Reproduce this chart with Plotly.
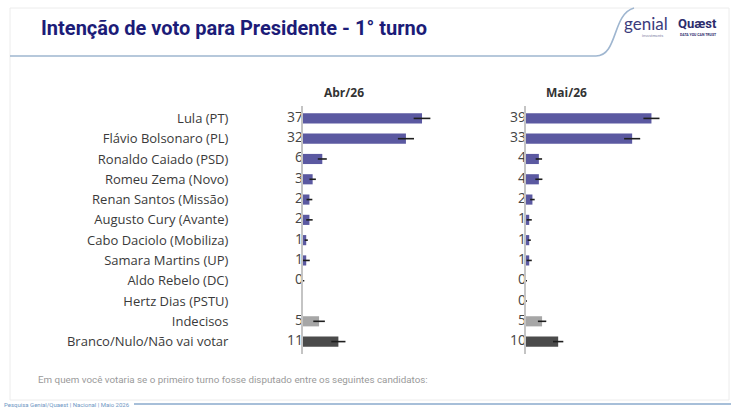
import plotly.graph_objects as go

W, H = 741, 412

candidatos = [
    "Lula (PT)", "Flávio Bolsonaro (PL)", "Ronaldo Caiado (PSD)", "Romeu Zema (Novo)",
    "Renan Santos (Missão)", "Augusto Cury (Avante)", "Cabo Daciolo (Mobiliza)",
    "Samara Martins (UP)", "Aldo Rebelo (DC)", "Hertz Dias (PSTU)", "Indecisos",
    "Branco/Nulo/Não vai votar",
]
abr_26 = [37, 32, 6, 3, 2, 2, 1, 1, 0, None, 5, 11]
abr_err = [2.6, 2.5, 1.4, 1.0, 0.9, 1.0, 0.5, 1.1, 0.4, None, 1.8, 2.2]
mai_26 = [39, 33, 4, 4, 2, 1, 1, 1, 0, 0, 5, 10]
mai_err = [2.5, 2.5, 1.0, 1.1, 0.7, 0.8, 0.5, 0.8, 0.3, 0.3, 1.3, 1.6]
meses = ["Abr/26", "Mai/26"]

roxo, cinza_claro, cinza_escuro = "#5b59a1", "#a6a6a6", "#4b4b4b"
cores = [roxo] * 10 + [cinza_claro, cinza_escuro]


def px(x, y):
    return x / W, 1 - y / H


fig = go.Figure()

for i, (vals, errs) in enumerate([(abr_26, abr_err), (mai_26, mai_err)]):
    xa = "x" if i == 0 else "x2"
    fig.add_trace(go.Bar(
        x=vals, y=candidatos, orientation="h", xaxis=xa, yaxis="y" if i == 0 else "y2",
        marker=dict(color=cores, line=dict(width=0)), width=0.5,
        error_x=dict(type="data", array=errs, color="#1e1e1e", thickness=1.6, width=0),
        showlegend=False, hoverinfo="x+y",
    ))
    fig.add_trace(go.Scatter(
        x=[0] * len(vals), y=candidatos, xaxis=xa, yaxis="y" if i == 0 else "y2",
        mode="text", text=["" if v is None else str(v) for v in vals],
        textposition="middle left", cliponaxis=False,
        textfont=dict(family="Open Sans", size=14, color="#444444"),
        showlegend=False, hoverinfo="skip",
    ))

y0, y1 = 1 - 354 / H, 1 - 106 / H
fig.update_layout(
    width=W, height=H, margin=dict(l=0, r=0, t=0, b=0),
    paper_bgcolor="white", plot_bgcolor="rgba(0,0,0,0)",
    xaxis=dict(domain=[303 / W, 496 / W], range=[0, 60], visible=False),
    xaxis2=dict(domain=[526 / W, 719 / W], range=[0, 60], visible=False),
    yaxis=dict(domain=[y0, y1], autorange="reversed", showline=True, linecolor="#c4c4c4",
               linewidth=2, showgrid=False, zeroline=False, ticks="",
               ticklabelstandoff=70,
               tickfont=dict(family="Open Sans", size=13, color="#3a3a3a")),
    yaxis2=dict(domain=[y0, y1], autorange="reversed", anchor="x2", showline=True,
                linecolor="#c4c4c4", linewidth=2, showgrid=False, zeroline=False,
                showticklabels=False, ticks=""),
    bargap=0.5,
)

# cabeçalhos das colunas
for m, xref in zip(meses, ["x domain", "x2 domain"]):
    fig.add_annotation(text=f"<b>{m}</b>", x=0.21, y=px(0, 92)[1], xref=xref, yref="paper",
                       showarrow=False, xanchor="center", yanchor="middle",
                       font=dict(family="Open Sans", size=12, color="#333333"))

# moldura e cabeçalho
fig.add_shape(type="rect", xref="paper", yref="paper",
              x0=px(10, 0)[0], x1=px(729, 0)[0], y0=px(0, 400)[1], y1=px(0, 8)[1],
              line=dict(color="#ececec", width=1), fillcolor="rgba(0,0,0,0)", layer="below")
ax, ay = px(10, 56)
bx, by = px(596, 56)
cx1, cy1 = px(618, 56)
cx2, cy2 = px(612, 14)
dx, dy = px(634, 8)
fig.add_shape(type="path", xref="paper", yref="paper",
              path=f"M {ax},{ay} L {bx},{by} C {cx1},{cy1} {cx2},{cy2} {dx},{dy}",
              line=dict(color="#9fb6d0", width=1.6))

fig.add_annotation(text="<b>Intenção de voto para Presidente - 1° turno</b>",
                   x=px(39, 0)[0], y=px(0, 28)[1], xref="paper", yref="paper",
                   showarrow=False, xanchor="left", yanchor="middle",
                   font=dict(family="Roboto", size=20, color="#1c1c78"))

# logos
fig.add_annotation(text="genial", x=px(622, 0)[0], y=px(0, 24)[1], xref="paper", yref="paper",
                   showarrow=False, xanchor="left", yanchor="middle",
                   font=dict(family="Lato", size=17, color="#3c3c7c"))
fig.add_annotation(text="investments", x=px(640, 0)[0], y=px(0, 36)[1], xref="paper",
                   yref="paper", showarrow=False, xanchor="left", yanchor="middle",
                   font=dict(family="Lato", size=4, color="#7a7aa0"))
fig.add_annotation(text="<b>Quæst</b>", x=px(676, 0)[0], y=px(0, 24)[1], xref="paper",
                   yref="paper", showarrow=False, xanchor="left", yanchor="middle",
                   font=dict(family="Roboto", size=13, color="#2c2c6c"))
fig.add_annotation(text="<b>DATA YOU CAN TRUST</b>", x=px(678, 0)[0], y=px(0, 35)[1],
                   xref="paper", yref="paper", showarrow=False, xanchor="left",
                   yanchor="middle", font=dict(family="Roboto", size=3.5, color="#2c2c6c"))

# rodapé
fig.add_annotation(text="Em quem você votaria se o primeiro turno fosse disputado entre os seguintes candidatos:",
                   x=px(36, 0)[0], y=px(0, 379)[1], xref="paper", yref="paper",
                   showarrow=False, xanchor="left", yanchor="middle",
                   font=dict(family="Roboto", size=9.8, color="#9a9a9a"))
fig.add_annotation(text="Pesquisa Genial/Quaest | Nacional | Maio 2026",
                   x=px(2, 0)[0], y=px(0, 404)[1], xref="paper", yref="paper",
                   showarrow=False, xanchor="left", yanchor="middle",
                   font=dict(family="Roboto", size=6, color="#6e96c4"))
fig.add_shape(type="line", xref="paper", yref="paper",
              x0=px(134, 0)[0], x1=px(731, 0)[0], y0=px(0, 404)[1], y1=px(0, 404)[1],
              line=dict(color="#a7bfd9", width=2))

fig.write_html("out.html", config={"displayModeBar": False},
               post_script="document.body.style.margin='0';")
